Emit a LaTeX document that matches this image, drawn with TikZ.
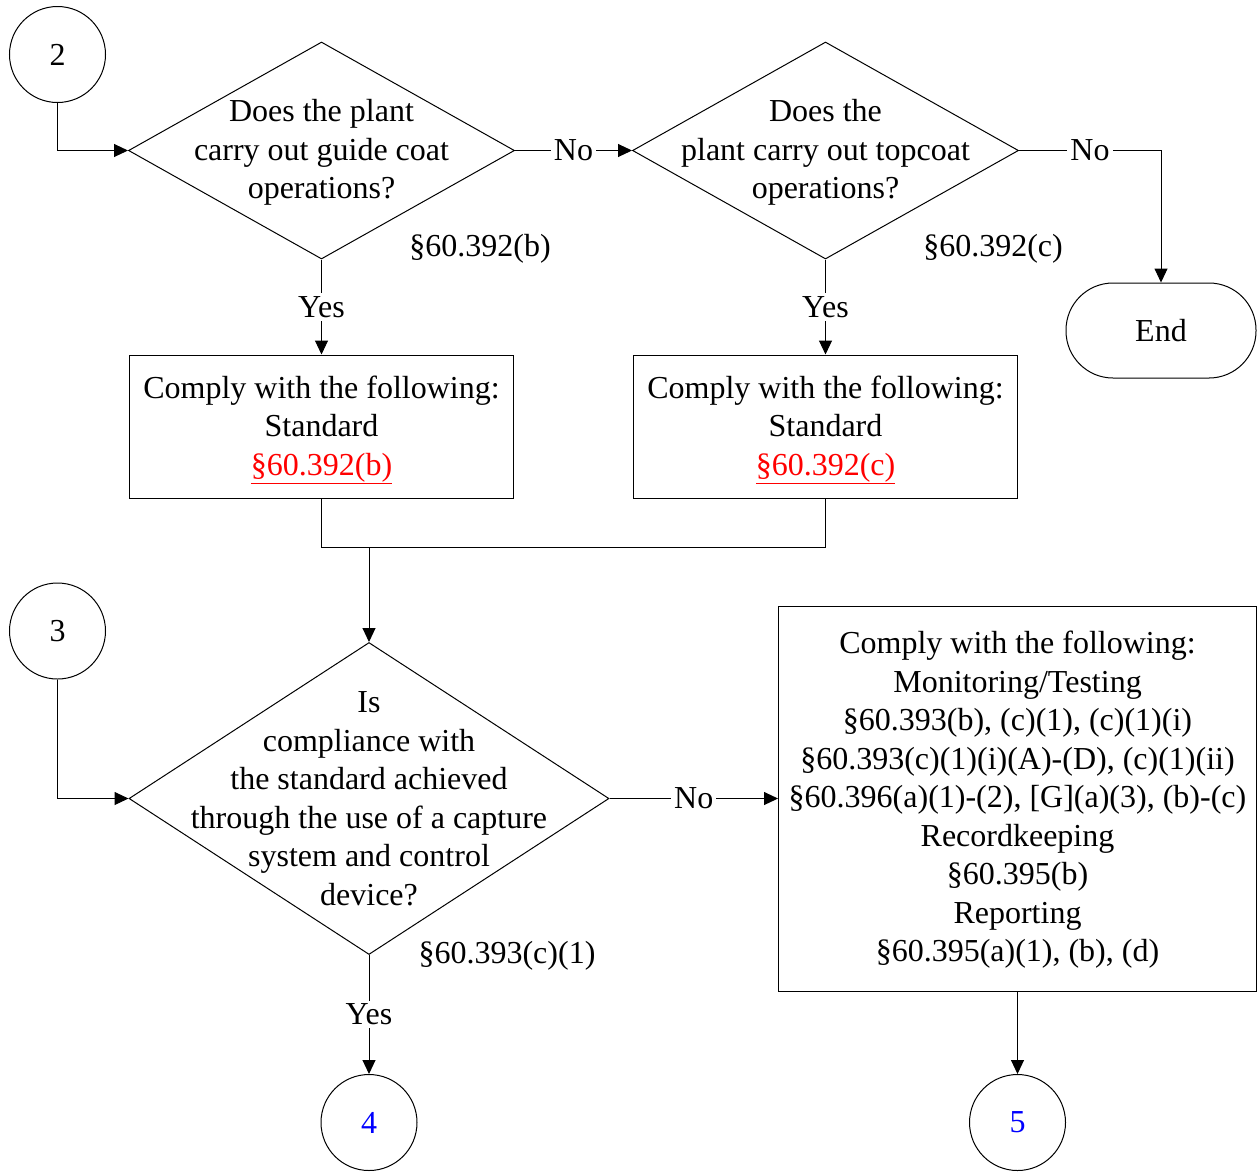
\documentclass[tikz,border=0pt]{standalone}
\usepackage{fontspec}
\setmainfont{Liberation Serif}
\usetikzlibrary{shapes.geometric,arrows.meta}
\begin{document}
\begin{tikzpicture}[x=1pt,y=-1pt,
  every node/.style={font=\fontsize{32}{38.5}\selectfont},
  ln/.style={line width=1pt, draw=black},
  arr/.style={ln, -{Triangle[length=14pt,width=13pt]}},
  dia/.style={diamond, draw, line width=1pt, inner sep=0pt},
  box/.style={rectangle, draw, line width=1pt, inner sep=0pt},
  conn/.style={circle, draw, line width=1pt, minimum size=96pt, inner sep=0pt},
  txt/.style={align=center, inner sep=0pt},
  lbl/.style={fill=white, inner sep=3pt},
]
\useasboundingbox (0,0) rectangle (1257,1171);

% connectors (circles)
\node[conn] (c2) at (57.5,54.5) {2};
\node[conn] (c3) at (57.5,631) {3};
\node[conn] (c4) at (369,1122.5) {\textcolor{blue}{4}};
\node[conn] (c5) at (1017.5,1122.5) {\textcolor{blue}{5}};

% decisions
\node[dia, minimum width=386pt, minimum height=217pt] (d1) at (321.5,150.5) {};
\node[txt] (d1t) at (321.5,152.5) {Does the plant\\carry out guide coat\\operations?};
\node[dia, minimum width=386pt, minimum height=217pt] (d2) at (825.5,150.5) {};
\node[txt] (d2t) at (825.5,152.5) {Does the\\plant carry out topcoat\\operations?};
\node[dia, minimum width=480pt, minimum height=312pt] (d3) at (369,798.5) {};
\node[txt] (d3t) at (369,798.5) {Is\\compliance with\\the standard achieved\\through the use of a capture\\system and control\\device?};

% citation labels
\node[txt] (r1) at (480,248.5) {§60.392(b)};
\node[txt] (r2) at (993,248.5) {§60.392(c)};
\node[txt] (r3) at (507,956) {§60.393(c)(1)};

% boxes
\node[box, minimum width=384pt, minimum height=143pt] (b1) at (321.5,426.5) {};
\node[txt] (b1t) at (321.5,430) {Comply with the following:\\Standard\\\textcolor{red}{\underline{§60.392(b)}}};
\node[box, minimum width=384pt, minimum height=143pt] (b2) at (825.5,426.5) {};
\node[txt] (b2t) at (825.5,430) {Comply with the following:\\Standard\\\textcolor{red}{\underline{§60.392(c)}}};
\node[box, minimum width=478pt, minimum height=385pt] (b3) at (1017.5,798.5) {};
\node[txt] (b3t) at (1017.5,800) {Comply with the following:\\Monitoring/Testing\\§60.393(b), (c)(1), (c)(1)(i)\\§60.393(c)(1)(i)(A)-(D), (c)(1)(ii)\\§60.396(a)(1)-(2), [G](a)(3), (b)-(c)\\Recordkeeping\\§60.395(b)\\Reporting\\§60.395(a)(1), (b), (d)};

% terminator
\node[box, rounded corners=47pt, minimum width=190pt, minimum height=95pt] (end) at (1161,330.5) {End};

% edges
\draw[arr] (c2.south) |- (d1.west);
\draw[arr] (c3.south) |- (d3.west);
\draw[arr] (d1.east) -- node[lbl] (n1) {No} (d2.west);
\draw[arr] (d2.east) -| node[lbl, pos=0.25] (n2) {No} (end.north);
\draw[arr] (d1.south) -- node[lbl] (y1) {Yes} (b1.north);
\draw[arr] (d2.south) -- node[lbl] (y2) {Yes} (b2.north);
\coordinate (m) at (369,547);
\draw[ln] (b1.south) |- (m) -| (b2.south);
\draw[arr] (m) -- (d3.north);
\draw[arr] (d3.east) -- node[lbl] (n3) {No} (b3.west);
\draw[arr] (d3.south) -- node[lbl] (y3) {Yes} (c4.north);
\draw[arr] (b3.south) -- (c5.north);
\end{tikzpicture}
\end{document}
